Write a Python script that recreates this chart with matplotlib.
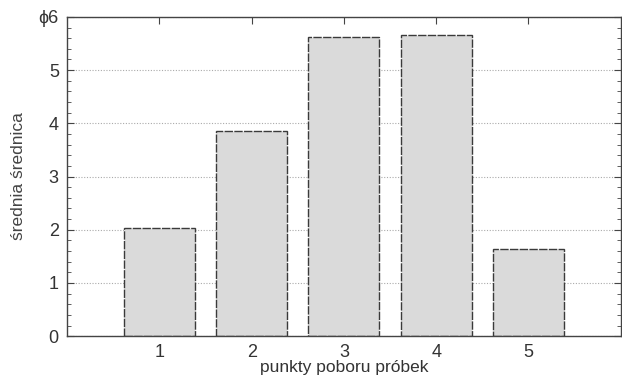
import matplotlib.pyplot as plt
import numpy as np
from matplotlib.ticker import MultipleLocator

# srednia srednica w punktach poboru
punkty = [1, 2, 3, 4, 5]
srednia = [2.03, 3.85, 5.62, 5.66, 1.64]
yticks = [0, 1, 2, 3, 4, 5, 6]
ylabels = ['0', '1', '2', '3', '4', '5', 'ϕ6']

plt.rcParams['font.family'] = ['Liberation Sans', 'DejaVu Sans']

fig = plt.figure(figsize=(6.22, 3.76), dpi=100)
ax = fig.add_axes([0.108, 0.106, 0.89, 0.849])

ax.bar(punkty, srednia, width=0.77, color='#dadada', edgecolor='#3a3a3a',
       linewidth=1.0, linestyle=(0, (6, 1)), zorder=2)

ax.set_xlim(0, 6)
ax.set_ylim(0, 6)
ax.set_xticks(punkty)
ax.set_yticks(yticks)
ax.set_yticklabels(ylabels)
ax.yaxis.set_minor_locator(MultipleLocator(0.2))
ax.yaxis.grid(True, linestyle=(0, (1, 1.5)), color='#aaaaaa', linewidth=0.8, zorder=0)

ax.tick_params(direction='in', which='both', top=True, right=True,
               labelsize=13, colors='#444444', labelcolor='#333333')
ax.tick_params(which='major', length=5, pad=6)
ax.tick_params(which='minor', length=3)
for s in ax.spines.values():
    s.set_color('#444444')
    s.set_linewidth(1.0)

ax.set_xlabel('punkty poboru próbek', fontsize=12.5, color='#333333', labelpad=-1)
ax.set_ylabel('średnia średnica', fontsize=12.5, color='#444444', labelpad=9)

plt.savefig('out.png', dpi=100)
